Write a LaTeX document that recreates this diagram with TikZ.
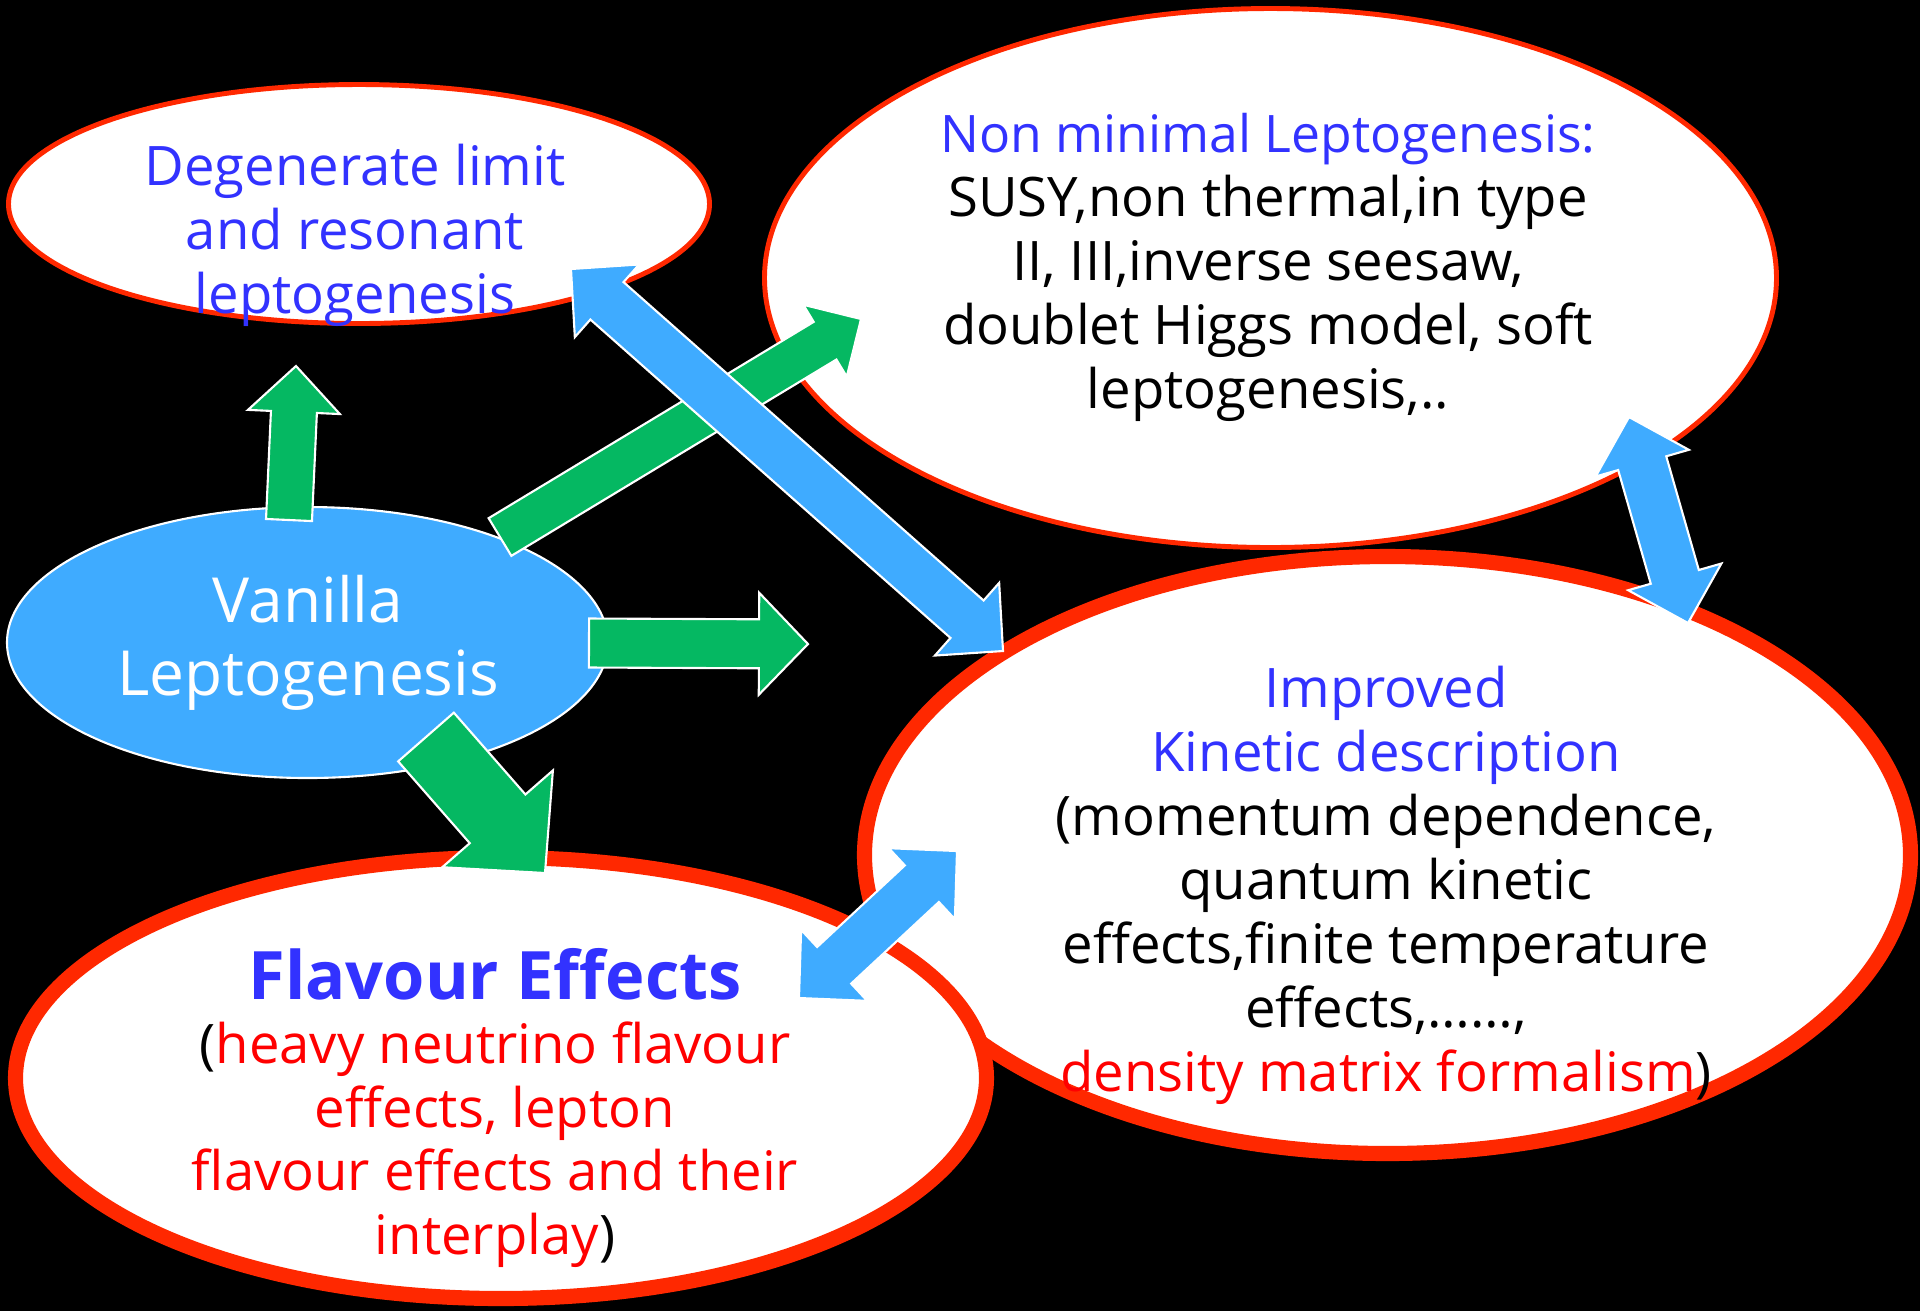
\documentclass[tikz,border=0pt]{standalone}
\usepackage{fontspec}
\setmainfont{Open Sans}
\usetikzlibrary{shapes.geometric,calc,positioning}

\definecolor{rimred}{HTML}{FF2800}
\definecolor{headblue}{HTML}{3232FF}
\definecolor{notered}{HTML}{FF0000}
\definecolor{arrowgreen}{HTML}{05B862}
\definecolor{skyblue}{HTML}{3FABFF}

\tikzset{
  bubble/.style={ellipse,inner sep=0pt,fill=white,draw=rimred,line width=1.4pt},
  bigbubble/.style={bubble,line width=4.3pt},
  txt/.style={align=center,font=\fontsize{15.5}{18.2}\selectfont},
  greenway/.style={fill=arrowgreen,draw=white,line width=0.6pt},
  blueway/.style={fill=skyblue,draw=white,line width=0.6pt}
}

\newcommand{\onearrow}[6]{%
  \coordinate (hb) at ($(#2)!#5!(#1)$);
  \path[#6] ($(#1)!#3!90:(#2)$) -- ($(hb)!#3!90:(#2)$) -- ($(hb)!#4!90:(#2)$) -- (#2)
    -- ($(hb)!#4!-90:(#2)$) -- ($(hb)!#3!-90:(#2)$) -- ($(#1)!#3!-90:(#2)$) -- cycle;}

\newcommand{\twoarrow}[6]{%
  \coordinate (ha) at ($(#1)!#5!(#2)$);
  \coordinate (hb) at ($(#2)!#5!(#1)$);
  \path[#6] (#1) -- ($(ha)!#4!90:(#2)$) -- ($(ha)!#3!90:(#2)$) -- ($(hb)!#3!90:(#2)$)
    -- ($(hb)!#4!90:(#2)$) -- (#2) -- ($(hb)!#4!-90:(#2)$) -- ($(hb)!#3!-90:(#2)$)
    -- ($(ha)!#3!-90:(#2)$) -- ($(ha)!#4!-90:(#2)$) -- cycle;}

\begin{document}
\begin{tikzpicture}[x=0.1mm,y=-0.1mm]
   \useasboundingbox (0,0) rectangle (1920,1311);
   \fill[black] (0,0) rectangle (1920,1311);

   \node[bubble] (deg) [minimum width=7.01cm,minimum height=2.39cm] at (359,204) {};
   \node[ellipse,inner sep=0pt,fill=skyblue,draw=white,line width=0.6pt] (van) [minimum width=6.01cm,minimum height=2.71cm] at (307.5,642.5) {};
   \node[bubble] (nonmin) [minimum width=10.12cm,minimum height=5.39cm] at (1270.5,278) {};
   \node[bigbubble] (kin) [minimum width=10.46cm,minimum height=5.97cm] at (1387.5,855) {};
   \node[bigbubble] (flav) [minimum width=9.71cm,minimum height=4.41cm] at (501,1078) {};

   \node[txt,text=headblue] (deg-t) at (355,235) {Degenerate limit\\and resonant\\leptogenesis};
   \node[txt] (nonmin-t) at (1268,267) {\textcolor{headblue}{\fontsize{14.7}{18.2}\selectfont Non minimal Leptogenesis:}\\SUSY,non thermal,in type\\II, III,inverse seesaw,\\doublet Higgs model, soft\\leptogenesis,..};
   \node[txt,text=white,font=\fontsize{17.7}{20.8}\selectfont] (van-t) at (308,643) {Vanilla\\Leptogenesis};
   \node[txt] (kin-t) at (1386,885) {\textcolor{headblue}{Improved}\\\textcolor{headblue}{Kinetic description}\\(momentum dependence,\\quantum kinetic\\effects,finite temperature\\effects,……,\\\textcolor{notered}{density matrix formalism})};
   \node[txt] (flav-t) at (495,1108) {{\fontsize{19}{22}\selectfont\bfseries\textcolor{headblue}{Flavour Effects}}\\(\textcolor{notered}{heavy neutrino flavour}\\\textcolor{notered}{effects, lepton}\\\textcolor{notered}{flavour effects and their}\\\textcolor{notered}{interplay})};

   \coordinate (up-s) at (289,520);   \coordinate (up-t) at (296,366);
   \coordinate (nm-s) at (500,537);   \coordinate (nm-t) at (861,319);
   \coordinate (rt-s) at (589,643);   \coordinate (rt-t) at (808,644);
   \coordinate (dn-s) at (426,737);   \coordinate (dn-t) at (545,873);
   \coordinate (dk-a) at (571,269);   \coordinate (dk-b) at (1003,651);
   \coordinate (nk-a) at (1629,417);  \coordinate (nk-b) at (1688,623);
   \coordinate (fk-a) at (799,998);   \coordinate (fk-b) at (957,851);

   \onearrow{up-s}{up-t}{0.23cm}{0.46cm}{0.46cm}{greenway}
   \onearrow{nm-s}{nm-t}{0.22cm}{0.42cm}{0.42cm}{greenway}
   \onearrow{rt-s}{rt-t}{0.245cm}{0.51cm}{0.49cm}{greenway}
   \onearrow{dn-s}{dn-t}{0.37cm}{0.735cm}{0.72cm}{greenway}
   \twoarrow{dk-a}{dk-b}{0.25cm}{0.485cm}{0.48cm}{blueway}
   \twoarrow{nk-a}{nk-b}{0.25cm}{0.485cm}{0.48cm}{blueway}
   \twoarrow{fk-a}{fk-b}{0.25cm}{0.485cm}{0.48cm}{blueway}
\end{tikzpicture}
\end{document}
